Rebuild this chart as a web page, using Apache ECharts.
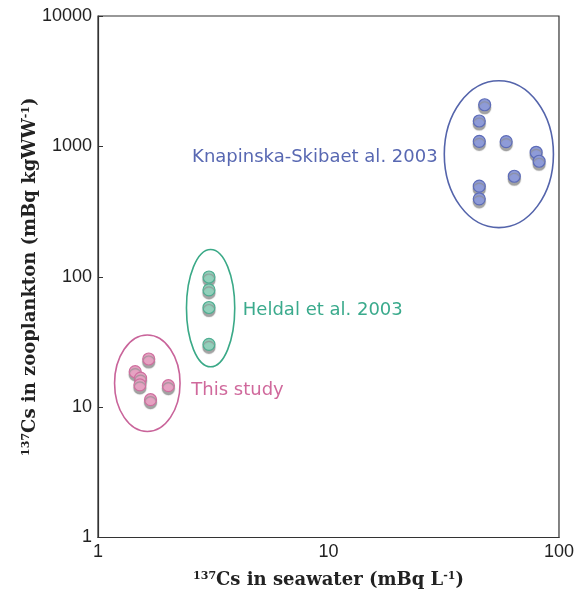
<!DOCTYPE html>
<html><head><meta charset="utf-8">
<script src="https://cdn.jsdelivr.net/npm/echarts@6/dist/echarts.min.js"></script>
<style>html,body{margin:0;padding:0;background:#fff}#c{width:577px;height:594px}</style>
</head><body><div id="c"></div>
<script>
// Data (x: 137Cs in seawater mBq/L, y: 137Cs in zooplankton mBq/kgWW)
const thisStudyX = [1.66, 1.45, 1.53, 1.52, 2.02, 1.69];
const thisStudyY = [23.4, 18.7, 16.7, 14.8, 14.6, 11.4];
const heldalX = [3.03, 3.03, 3.03, 3.03];
const heldalY = [99.6, 79.3, 58.1, 30.3];
const knapX = [47.6, 45.1, 45.1, 59.0, 79.6, 82.0, 64.0, 45.1, 45.1];
const knapY = [2085, 1566, 1093, 1087, 901, 769, 590, 495, 396];
const xTicks = [1, 10, 100];
const yTicks = [1, 10, 100, 1000, 10000];
// group ellipse extents in data units [xmin, xmax, ymin, ymax]
const thisStudyEllipse = [1.18, 2.27, 6.5, 35.7];
const heldalEllipse = [2.42, 3.92, 20.4, 162];
const knapEllipse = [31.8, 94.6, 238, 3184];
// group label anchors (left, middle) in data units
const thisStudyLabel = [2.54, 13.5];
const heldalLabel = [4.25, 55.4];
const knapLabel = [2.56, 820];

const groups = [
  {name:'This study', xs:thisStudyX, ys:thisStudyY, ell:thisStudyEllipse, lab:thisStudyLabel,
   fill:'#e6a2c2', stroke:'#cf6f9f', line:'#c9649a', text:'#d0699c'},
  {name:'Heldal et al. 2003', xs:heldalX, ys:heldalY, ell:heldalEllipse, lab:heldalLabel,
   fill:'#92d0bb', stroke:'#4fae92', line:'#3aa987', text:'#3aaa8c'},
  {name:'Knapinska-Skibaet al. 2003', xs:knapX, ys:knapY, ell:knapEllipse, lab:knapLabel,
   fill:'#8e9bd8', stroke:'#5d6cb8', line:'#5464ab', text:'#5868b2'}
];

const chart = echarts.init(document.getElementById('c'), null, {renderer:'canvas'});
const axisFont = {fontFamily:'Liberation Sans', fontSize:18, color:'#222'};
const titleRich = {
  sup:{fontFamily:'DejaVu Serif', fontWeight:'bold', fontSize:11, verticalAlign:'top', padding:[0,0,8,0], color:'#222'},
  m:{fontFamily:'DejaVu Serif', fontWeight:'bold', fontSize:18, color:'#222'}
};
chart.setOption({
  animation:false,
  grid:{left:98, right:14, top:16, bottom:55, show:true, borderColor:'#333', borderWidth:1.2},
  xAxis:{type:'log', logBase:10, min:xTicks[0], max:xTicks[xTicks.length-1],
    axisLine:{show:true, lineStyle:{color:'#333', width:1.2}},
    axisTick:{show:false}, splitLine:{show:false}, minorTick:{show:false},
    axisLabel:Object.assign({margin:6, showMinLabel:true, showMaxLabel:true, formatter:v=>String(v)}, axisFont),
    name:'{sup|137}{m|Cs in seawater (mBq L}{sup|-1}{m|)}', nameLocation:'middle', nameGap:33,
    nameTextStyle:{rich:titleRich}
  },
  yAxis:{type:'log', logBase:10, min:yTicks[0], max:yTicks[yTicks.length-1],
    axisLine:{show:true, lineStyle:{color:'#333', width:1.2}},
    axisTick:{show:true, inside:true, length:5, lineStyle:{color:'#333'}},
    splitLine:{show:false}, minorTick:{show:false},
    axisLabel:Object.assign({margin:6, formatter:v=>String(v)}, axisFont),
    name:'{sup|137}{m|Cs in zooplankton (mBq kgWW}{sup|-1}{m|)}', nameLocation:'middle', nameGap:58,
    nameMoveOverlap:false,
    nameTextStyle:{rich:titleRich}
  },
  series: groups.map(g => ({
    type:'scatter', name:g.name, symbol:'circle', symbolSize:12,
    data:g.xs.map((x,i)=>[x, g.ys[i]]),
    itemStyle:{color:g.fill, borderColor:g.stroke, borderWidth:1.2, opacity:1,
      shadowColor:'rgba(140,140,140,0.8)', shadowBlur:1, shadowOffsetY:3},
    z:3
  }))
});

function drawOverlays(){
  const els = [];
  groups.forEach(g => {
    const p1 = chart.convertToPixel({gridIndex:0}, [g.ell[0], g.ell[3]]);
    const p2 = chart.convertToPixel({gridIndex:0}, [g.ell[1], g.ell[2]]);
    els.push({type:'ellipse', z:1, silent:true,
      shape:{cx:(p1[0]+p2[0])/2, cy:(p1[1]+p2[1])/2, rx:Math.abs(p2[0]-p1[0])/2, ry:Math.abs(p2[1]-p1[1])/2},
      style:{fill:'none', stroke:g.line, lineWidth:1.6}});
    const lp = chart.convertToPixel({gridIndex:0}, g.lab);
    els.push({type:'text', z:4, silent:true, x:lp[0], y:lp[1],
      style:{text:g.name, fill:g.text, font:'18px "DejaVu Sans"', textVerticalAlign:'middle', textAlign:'left'}});
  });
  chart.setOption({graphic:{elements:els}});
}
drawOverlays();
</script></body></html>
